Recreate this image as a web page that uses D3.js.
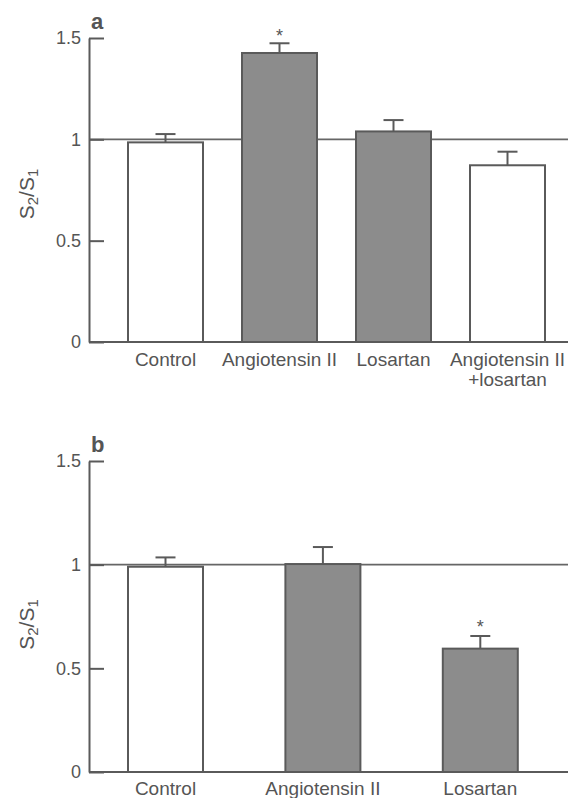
<!DOCTYPE html>
<html>
<head>
<meta charset="utf-8">
<script src="https://cdn.jsdelivr.net/npm/d3@7"></script>
<style>
  body { margin: 0; background: #fff; }
  text { font-family: "Liberation Sans", Arial, sans-serif; fill: #555; }
</style>
</head>
<body>
<script>
            // values
            var categoriesA = ["Control", "Angiotensin II", "Losartan", "Angiotensin II|+losartan"];
            var meansA = [0.985, 1.426, 1.039, 0.872];
            var semA = [0.041, 0.048, 0.056, 0.067];
            var shadedA = [false, true, true, false];
            var starA = [false, true, false, false];

            var categoriesB = ["Control", "Angiotensin II", "Losartan"];
            var meansB = [0.990, 1.003, 0.595];
            var semB = [0.045, 0.082, 0.061];
            var shadedB = [false, true, true];
            var starB = [false, false, true];

            var tickValues = [0, 0.5, 1, 1.5];
            var tickLabels = ["0", "0.5", "1", "1.5"];

            var width = 568;
            var height = 798;
            var ink = "#5a5a5a";

            var svg = d3.select("body")
                            .append("svg")
                            .attr("width", width)
                            .attr("height", height);

            function panel(opts){
                var rows = opts.cats.map(function(c, i){
                    return {cat: c, mean: opts.means[i], sem: opts.sems[i],
                            shaded: opts.shaded[i], star: opts.star[i]};
                });

                var yScale = d3.scaleLinear()
                                .domain([0, 1.5])
                                .range([opts.bottom, opts.top]);

                var xScale = d3.scalePoint()
                                .domain(opts.cats)
                                .range(opts.xRange);

                var barW = 75;
                var g = svg.append("g");

                // reference line at 1
                g.append("line")
                    .attr("x1", 89).attr("x2", width)
                    .attr("y1", yScale(1)).attr("y2", yScale(1))
                    .attr("stroke", "#666").attr("stroke-width", 1.6);

                g.selectAll("rect")
                    .data(rows)
                    .enter()
                    .append("rect")
                    .attr("x", function(d){ return xScale(d.cat) - barW/2; })
                    .attr("y", function(d){ return yScale(d.mean); })
                    .attr("width", barW)
                    .attr("height", function(d){ return yScale(0) - yScale(d.mean); })
                    .attr("fill", function(d){ return d.shaded ? "#8c8c8c" : "#fff"; })
                    .attr("stroke", ink)
                    .attr("stroke-width", 2);

                // error bars
                g.selectAll(".err")
                    .data(rows)
                    .enter()
                    .append("line")
                    .attr("x1", function(d){ return xScale(d.cat); })
                    .attr("x2", function(d){ return xScale(d.cat); })
                    .attr("y1", function(d){ return yScale(d.mean); })
                    .attr("y2", function(d){ return yScale(d.mean + d.sem); })
                    .attr("stroke", ink).attr("stroke-width", 2);

                g.selectAll(".cap")
                    .data(rows)
                    .enter()
                    .append("line")
                    .attr("x1", function(d){ return xScale(d.cat) - 10; })
                    .attr("x2", function(d){ return xScale(d.cat) + 10; })
                    .attr("y1", function(d){ return yScale(d.mean + d.sem); })
                    .attr("y2", function(d){ return yScale(d.mean + d.sem); })
                    .attr("stroke", ink).attr("stroke-width", 2);

                g.selectAll(".star")
                    .data(rows.filter(function(d){ return d.star; }))
                    .enter()
                    .append("text")
                    .attr("x", function(d){ return xScale(d.cat); })
                    .attr("y", function(d){ return yScale(d.mean + d.sem) - opts.starGap; })
                    .attr("text-anchor", "middle")
                    .style("font-size", "18px")
                    .text("*");

                // x baseline
                g.append("line")
                    .attr("x1", 89).attr("x2", width)
                    .attr("y1", yScale(0)).attr("y2", yScale(0))
                    .attr("stroke", ink).attr("stroke-width", 2);

                // y axis, ticks pointing inward
                var axis = g.append("g")
                    .attr("transform", "translate(89,0)")
                    .call(d3.axisLeft(yScale)
                        .tickValues(tickValues)
                        .tickFormat(function(d, i){ return tickLabels[i]; })
                        .tickSizeInner(-15)
                        .tickSizeOuter(0)
                        .tickPadding(8));
                axis.selectAll("path, line").attr("stroke", ink).attr("stroke-width", 2);
                axis.selectAll("text")
                    .style("font-size", "18px")
                    .style("font-family", "Liberation Sans, Arial, sans-serif")
                    .attr("fill", "#555");

                // category labels
                var labels = g.selectAll(".lab")
                    .data(rows)
                    .enter()
                    .append("text")
                    .attr("text-anchor", "middle")
                    .style("font-size", "19px")
                    .attr("x", function(d){ return xScale(d.cat); })
                    .attr("y", opts.labelY);
                labels.each(function(d){
                    var parts = d.cat.split("|");
                    var t = d3.select(this);
                    parts.forEach(function(p, i){
                        t.append("tspan")
                            .attr("x", xScale(d.cat))
                            .attr("dy", i === 0 ? 0 : 20)
                            .text(p);
                    });
                });

                // axis title S2/S1
                var title = g.append("text")
                    .attr("transform", "translate(34," + ((opts.top + opts.bottom)/2 + opts.titleShift) + ") rotate(-90)")
                    .attr("text-anchor", "middle")
                    .style("font-size", "21px");
                title.append("tspan").text("S");
                title.append("tspan").attr("baseline-shift", "-25%").style("font-size", "15px").text("2");
                title.append("tspan").text("/S");
                title.append("tspan").attr("baseline-shift", "-25%").style("font-size", "15px").text("1");

                // panel letter
                g.append("text")
                    .attr("x", 91)
                    .attr("y", opts.top - 9)
                    .style("font-size", "22px")
                    .style("font-weight", "bold")
                    .attr("fill", "#444")
                    .text(opts.letter);
            }

            panel({cats: categoriesA, means: meansA, sems: semA, shaded: shadedA, star: starA,
                   top: 38, bottom: 342, xRange: [165.5, 507.5], labelY: 366, letter: "a",
                   starGap: 1, titleShift: 4});

            panel({cats: categoriesB, means: meansB, sems: semB, shaded: shadedB, star: starB,
                   top: 461, bottom: 772, xRange: [165.5, 480.3], labelY: 795, letter: "b",
                   starGap: 3, titleShift: 8});
</script>
</body>
</html>
